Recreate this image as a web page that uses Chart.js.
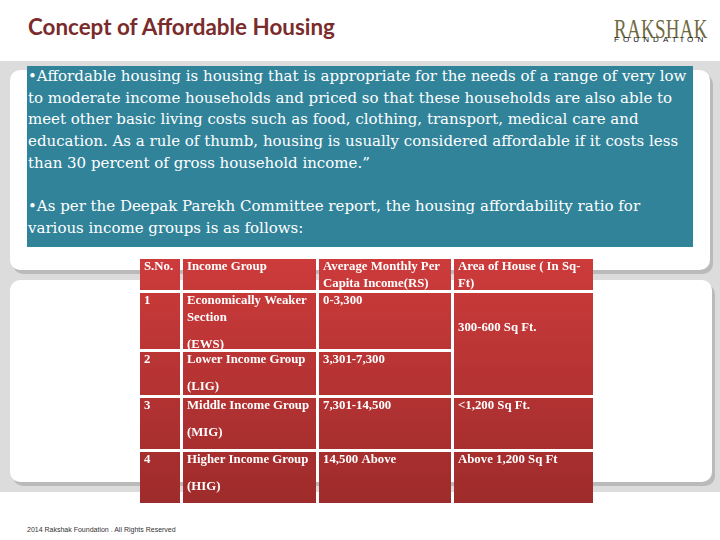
<!DOCTYPE html>
<html>
<head>
<meta charset="utf-8">
<script src="https://cdn.jsdelivr.net/npm/chart.js@4.4.1/dist/chart.umd.min.js"></script>
<style>
  body { margin: 0; width: 720px; height: 540px; background: #fff; position: relative; overflow: hidden; }
  .abs { position: absolute; }
  #title { left: 28px; top: 13px; font: bold 22.4px Lato, sans-serif; color: #7a2b2b; }
  #logo1 { left: 614px; top: 14px; font: 27px "Liberation Serif", serif; color: #6e6a3e; transform: scaleX(0.7); transform-origin: left top; letter-spacing: 0.5px; }
  #logo2 { left: 614px; top: 35px; font: 8px "Liberation Sans", sans-serif; color: #111; letter-spacing: 4.1px; }
  #band { left: 0; top: 61px; width: 720px; height: 431px; background: #dcdcdc; }
  .panel { left: 10px; width: 700px; background: #fff; border-radius: 10px; box-shadow: 3px 4px 0 #bababa; }
  #blue { left: 27px; top: 66px; width: 666px; height: 181px; background: #31839a; color: #fff;
          font: 15px "DejaVu Serif", serif; line-height: 21.7px; white-space: nowrap; }
  #blue p { margin: 0; padding-left: 1px; }
  #foot { left: 27px; top: 526px; font: 7px "Liberation Sans", sans-serif; color: #333; }
</style>
</head>
<body>
<div id="title" class="abs">Concept of Affordable Housing</div>
<div id="logo1" class="abs">RAKSHAK</div>
<div id="logo2" class="abs">FOUNDATION</div>
<div id="band" class="abs"></div>
<div class="abs panel" style="top:70px;height:200px"></div>
<div class="abs panel" style="top:280px;height:202px;width:702px"></div>
<div id="blue" class="abs">
<p>•Affordable housing is housing that is appropriate for the needs of a range of very low<br>
to moderate income households and priced so that these households are also able to<br>
meet other basic living costs such as food, clothing, transport, medical care and<br>
education. As a rule of thumb, housing is usually considered affordable if it costs less<br>
than 30 percent of gross household income.”<br>
&nbsp;<br>
•As per the Deepak Parekh Committee report, the housing affordability ratio for<br>
various income groups is as follows:</p>
</div>
<canvas id="table" class="abs" width="460" height="250" style="left:136px;top:256px"></canvas>
<div id="foot" class="abs">2014 Rakshak Foundation . All Rights Reserved</div>
<script>
const headers = ['S.No.', 'Income Group', 'Average Monthly Per Capita Income(RS)', 'Area of House ( In Sq-Ft)'];
const serialNos = ['1', '2', '3', '4'];
const incomeGroups = ['Economically Weaker Section', 'Lower Income Group', 'Middle Income Group', 'Higher Income Group'];
const groupCodes = ['(EWS)', '(LIG)', '(MIG)', '(HIG)'];
const incomeRanges = ['0-3,300', '3,301-7,300', '7,301-14,500', '14,500 Above'];
const houseAreas = ['300-600 Sq Ft.', '300-600 Sq Ft.', '<1,200 Sq Ft.', 'Above 1,200 Sq Ft'];

// layout of the table (pixels)
const colW = [40, 133, 132, 139];
const rowH = [31, 56, 43, 51, 51];
const gap = 3;

function wrap(ctx, text, maxW) {
    const tokens = text.match(/[^\s-]*-|[^\s-]+|\s+/g);
    const lines = [];
    let line = '';
    tokens.forEach((t) => {
        if (line && t.trim() && ctx.measureText(line + t).width > maxW) {
            lines.push(line.trimEnd());
            line = t;
        } else if (line || t.trim()) {
            line += t;
        }
    });
    if (line) lines.push(line.trimEnd());
    return lines;
}

const tablePlugin = {
    id: 'tabla',
    afterDraw(chart) {
        const ctx = chart.ctx;
        const area = chart.chartArea;
        const x0 = area.left + 4, y0 = area.top + 3;
        const xs = [], ys = [];
        let x = x0, y = y0;
        colW.forEach((w) => { xs.push(x); x += w + gap; });
        rowH.forEach((h) => { ys.push(y); y += h + gap; });
        const bottom = y - gap;

        const grad = ctx.createLinearGradient(0, y0, 0, bottom);
        grad.addColorStop(0, '#cd3b3b');
        grad.addColorStop(1, '#9e2b2b');

        ctx.save();
        ctx.font = 'bold 12.8px "Liberation Serif", serif';
        ctx.textBaseline = 'middle';

        const cell = (c, r, span, lines, offs) => {
            let h = rowH[r];
            for (let k = 1; k < span; k++) h += gap + rowH[r + k];
            ctx.fillStyle = grad;
            ctx.fillRect(xs[c], ys[r], colW[c], h);
            ctx.fillStyle = '#ffffff';
            lines.forEach((l, i) => ctx.fillText(l, xs[c] + 4, ys[r] + offs[i]));
        };

        headers.forEach((h, c) => {
            const lines = wrap(ctx, h, colW[c] - 8);
            cell(c, 0, 1, lines, lines.map((l, i) => 8 + 17 * i));
        });

        serialNos.forEach((s, i) => {
            const r = i + 1;
            cell(0, r, 1, [s], [8]);
            const name = wrap(ctx, incomeGroups[i], colW[1] - 8);
            const offs = name.map((l, k) => 8 + 17 * k);
            offs.push(offs[offs.length - 1] + 27);
            cell(1, r, 1, name.concat([groupCodes[i]]), offs);
            cell(2, r, 1, [incomeRanges[i]], [8]);
            if (i > 0 && houseAreas[i] === houseAreas[i - 1]) return;
            let span = 1;
            while (houseAreas[i + span] === houseAreas[i]) span++;
            cell(3, r, span, [houseAreas[i]], [span > 1 ? 35 : 8]);
        });
        ctx.restore();
    }
};

new Chart(document.getElementById('table'), {
    type: 'bar',
    data: { labels: serialNos, datasets: [] },
    options: {
        responsive: false,
        animation: false,
        events: [],
        layout: { padding: 0 },
        plugins: { legend: { display: false }, tooltip: { enabled: false } },
        scales: { x: { display: false }, y: { display: false } }
    },
    plugins: [tablePlugin]
});
</script>
</body>
</html>
